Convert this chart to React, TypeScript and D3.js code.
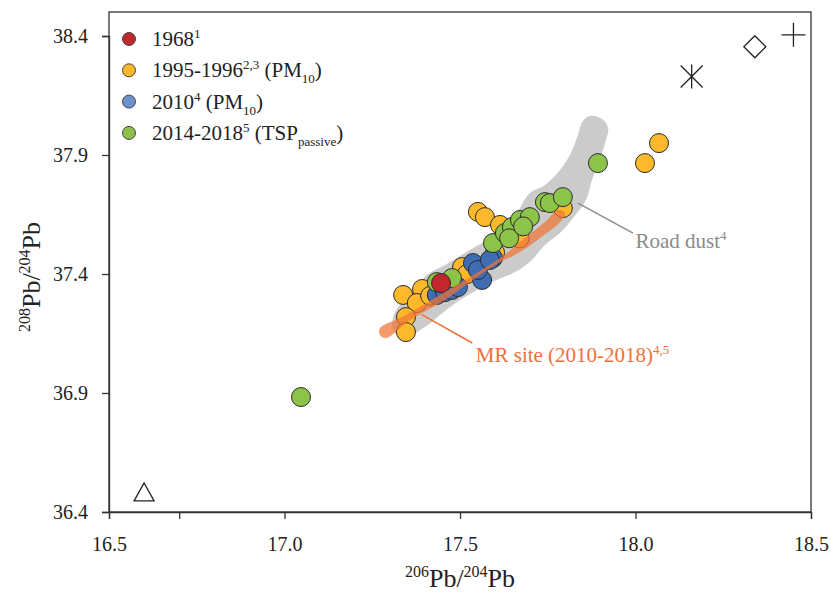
import { useEffect, useRef } from 'react';
import * as d3 from 'd3';

type Pt = [number, number];

// 206Pb/204Pb , 208Pb/204Pb
const s1968: Pt[] = [[17.446, 37.362]];

const s1995: Pt[] = [
  [17.338, 37.312], [17.392, 37.337], [17.377, 37.278], [17.346, 37.219], [17.346, 37.156],
  [17.415, 37.308], [17.506, 37.429], [17.551, 37.661], [17.571, 37.639], [17.614, 37.606],
  [17.793, 37.677], [18.027, 37.866], [18.067, 37.950], [17.47, 37.35], [17.52, 37.40],
  [17.60, 37.49], [17.67, 37.55],
];

const s2010: Pt[] = [
  [17.434, 37.312], [17.457, 37.324], [17.477, 37.333], [17.494, 37.345], [17.537, 37.446],
  [17.563, 37.375], [17.594, 37.467], [17.551, 37.417], [17.585, 37.459],
];

const s2014: Pt[] = [
  [17.434, 37.366], [17.477, 37.383], [17.594, 37.530], [17.628, 37.572], [17.648, 37.597],
  [17.671, 37.627], [17.699, 37.639], [17.742, 37.702], [17.756, 37.698], [17.793, 37.723],
  [17.893, 37.866], [17.047, 36.883], [17.64, 37.55], [17.68, 37.60],
];

// outline of the road dust field
const roadDust: Pt[] = [
  [17.309, 37.165], [17.315, 37.240], [17.358, 37.312], [17.406, 37.396], [17.457, 37.438],
  [17.528, 37.501], [17.585, 37.551], [17.657, 37.648], [17.699, 37.740], [17.742, 37.774],
  [17.785, 37.837], [17.813, 37.900], [17.836, 37.984], [17.848, 38.039], [17.870, 38.064],
  [17.905, 38.051], [17.922, 38.013], [17.916, 37.963], [17.893, 37.858], [17.876, 37.795],
  [17.859, 37.711], [17.822, 37.635], [17.785, 37.572], [17.742, 37.522], [17.699, 37.450],
  [17.657, 37.408], [17.585, 37.362], [17.514, 37.303], [17.457, 37.245], [17.400, 37.177],
  [17.343, 37.135],
];

// outline of the MR site band
const mrSite: Pt[] = [
  [17.272, 37.173], [17.329, 37.215], [17.443, 37.312], [17.528, 37.387], [17.614, 37.467],
  [17.685, 37.551], [17.742, 37.618], [17.779, 37.669], [17.799, 37.656], [17.785, 37.618],
  [17.728, 37.551], [17.671, 37.492], [17.600, 37.438], [17.528, 37.366], [17.457, 37.291],
  [17.358, 37.207], [17.289, 37.131], [17.272, 37.144],
];

// reference end-members
const refTriangle: Pt = [16.60, 36.48];
const refAsterisk: Pt = [18.16, 38.23];
const refDiamond: Pt = [18.34, 38.355];
const refPlus: Pt = [18.45, 38.405];

const xTicks = [16.5, 17.0, 17.5, 18.0, 18.5];
const xMinorTicks = [16.7];
const yTicks = [36.4, 36.9, 37.4, 37.9, 38.4];

const legendItems = [
  { main: '1968', sup: '1', tail: '', sub: '', color: '#c0282d' },
  { main: '1995-1996', sup: '2,3', tail: ' (PM', sub: '10', color: '#fbb829' },
  { main: '2010', sup: '4', tail: ' (PM', sub: '10', color: '#6f92cc' },
  { main: '2014-2018', sup: '5', tail: ' (TSP', sub: 'passive', color: '#8cc04a' },
];

const W = 831;
const H = 594;
const FONT = '"Liberation Serif", "Times New Roman", serif';

export default function App() {
  const svgRef = useRef<SVGSVGElement>(null);

  useEffect(() => {
    const svg = d3.select(svgRef.current);
    svg.selectAll('*').remove();

    const left = 109, right = 811, top = 12, bottom = 512;
    const x = d3.scaleLinear().domain([16.5, 18.5]).range([left, right]);
    const y = d3.scaleLinear().domain([36.4, 38.4]).range([bottom, bottom - 4 * 119]);

    svg.append('rect').attr('width', W).attr('height', H).attr('fill', '#fff');

    const line = d3.line<Pt>().x(d => x(d[0])).y(d => y(d[1])).curve(d3.curveCatmullRomClosed.alpha(0.5));

    // road dust field
    svg.append('path').attr('d', line(roadDust)).attr('fill', '#cbcbcb');

    // data circles
    const drawSeries = (data: Pt[], color: string) => {
      svg.append('g').selectAll('circle').data(data).enter().append('circle')
        .attr('cx', d => x(d[0])).attr('cy', d => y(d[1])).attr('r', 9.5)
        .attr('fill', color).attr('stroke', '#2b2b2b').attr('stroke-width', 1);
    };
    drawSeries(s1995, '#fdb92b');
    drawSeries(s2010, '#3f6db4');
    drawSeries(s2014, '#8cc44a');
    drawSeries(s1968, '#c1272d');

    // MR site band
    svg.append('path').attr('d', line(mrSite)).attr('fill', '#f07536').attr('opacity', 0.72);

    // frame
    svg.append('rect').attr('x', left).attr('y', top).attr('width', right - left).attr('height', bottom - top)
      .attr('fill', 'none').attr('stroke', '#333').attr('stroke-width', 1.3);

    // axes
    const xAxis = svg.append('g').attr('transform', `translate(0,${bottom})`)
      .call(d3.axisBottom(x).tickValues(xTicks).tickSize(7).tickPadding(18).tickFormat(d3.format('.1f')));
    svg.append('g').attr('transform', `translate(0,${bottom})`)
      .call(d3.axisBottom(x).tickValues(xMinorTicks).tickSize(7).tickFormat(() => ''))
      .select('.domain').remove();
    const yAxis = svg.append('g').attr('transform', `translate(${left},0)`)
      .call(d3.axisLeft(y).tickValues(yTicks).tickSize(7).tickPadding(14).tickFormat(d3.format('.1f')));
    [xAxis, yAxis].forEach(a => {
      a.selectAll('text').style('font-family', FONT).style('font-size', '20px').style('fill', '#222');
    });
    svg.selectAll('.domain').attr('stroke', '#333').attr('stroke-width', 1.3);
    svg.selectAll('.tick line').attr('stroke', '#333').attr('stroke-width', 1.3);

    // reference markers
    const mk = svg.append('g').attr('fill', 'none').attr('stroke', '#222').attr('stroke-width', 1.3);
    const [tx, ty] = [x(refTriangle[0]), y(refTriangle[1])];
    mk.append('path').attr('d', `M${tx},${ty - 10}L${tx + 10},${ty + 8}L${tx - 10},${ty + 8}Z`);
    const [ax, ay] = [x(refAsterisk[0]), y(refAsterisk[1])];
    mk.append('path').attr('d',
      `M${ax},${ay - 12}L${ax},${ay + 12}M${ax - 11},${ay - 11}L${ax + 11},${ay + 11}M${ax + 11},${ay - 11}L${ax - 11},${ay + 11}`);
    const [dx, dy] = [x(refDiamond[0]), y(refDiamond[1])];
    mk.append('path').attr('d', `M${dx},${dy - 11}L${dx + 11},${dy}L${dx},${dy + 11}L${dx - 11},${dy}Z`);
    const [px, py] = [x(refPlus[0]), y(refPlus[1])];
    mk.append('path').attr('d', `M${px - 12},${py}L${px + 12},${py}M${px},${py - 12}L${px},${py + 12}`);

    // annotations
    svg.append('line')
      .attr('x1', x(17.836)).attr('y1', y(37.698)).attr('x2', x(17.993)).attr('y2', y(37.572))
      .attr('stroke', '#8c8c8c').attr('stroke-width', 1.5);
    const rd = svg.append('text').attr('x', x(18.0)).attr('y', y(37.51))
      .style('font-family', FONT).style('font-size', '21px').style('fill', '#8a8a8a');
    rd.append('tspan').text('Road dust');
    rd.append('tspan').attr('dy', -8).style('font-size', '13px').text('4');

    svg.append('line')
      .attr('x1', x(17.39)).attr('y1', y(37.23)).attr('x2', x(17.535)).attr('y2', y(37.11))
      .attr('stroke', '#ef6f38').attr('stroke-width', 1.5);
    const mr = svg.append('text').attr('x', x(17.545)).attr('y', y(37.03))
      .style('font-family', FONT).style('font-size', '21px').style('fill', '#ef6f38');
    mr.append('tspan').text('MR site (2010-2018)');
    mr.append('tspan').attr('dy', -8).style('font-size', '13px').text('4,5');

    // legend
    const lg = svg.append('g');
    legendItems.forEach((it, i) => {
      const cy = 39 + i * 31.3;
      lg.append('circle').attr('cx', 129).attr('cy', cy).attr('r', 6.5)
        .attr('fill', it.color).attr('stroke', '#444').attr('stroke-width', 1);
      const t = lg.append('text').attr('x', 152).attr('y', cy + 7)
        .style('font-family', FONT).style('font-size', '21px').style('fill', '#222');
      t.append('tspan').text(it.main);
      t.append('tspan').attr('dy', -8).style('font-size', '13px').text(it.sup);
      if (it.tail) {
        t.append('tspan').attr('dy', 8).text(it.tail);
        t.append('tspan').attr('dy', 6).style('font-size', '13px').text(it.sub);
        t.append('tspan').attr('dy', -6).text(')');
      }
    });

    // axis titles
    const xt = svg.append('text').attr('x', (left + right) / 2).attr('y', 587).attr('text-anchor', 'middle')
      .style('font-family', FONT).style('font-size', '26px').style('fill', '#222');
    xt.append('tspan').attr('dy', -10).style('font-size', '16px').text('206');
    xt.append('tspan').attr('dy', 10).text('Pb/');
    xt.append('tspan').attr('dy', -10).style('font-size', '16px').text('204');
    xt.append('tspan').attr('dy', 10).text('Pb');

    const yt = svg.append('text').attr('transform', `translate(40,277) rotate(-90)`)
      .attr('text-anchor', 'middle')
      .style('font-family', FONT).style('font-size', '26px').style('fill', '#222');
    yt.append('tspan').attr('dy', -10).style('font-size', '16px').text('208');
    yt.append('tspan').attr('dy', 10).text('Pb/');
    yt.append('tspan').attr('dy', -10).style('font-size', '16px').text('204');
    yt.append('tspan').attr('dy', 10).text('Pb');
  }, []);

  return (
    <svg ref={svgRef} width={W} height={H} style={{ position: 'absolute', left: 0, top: 0 }} />
  );
}
